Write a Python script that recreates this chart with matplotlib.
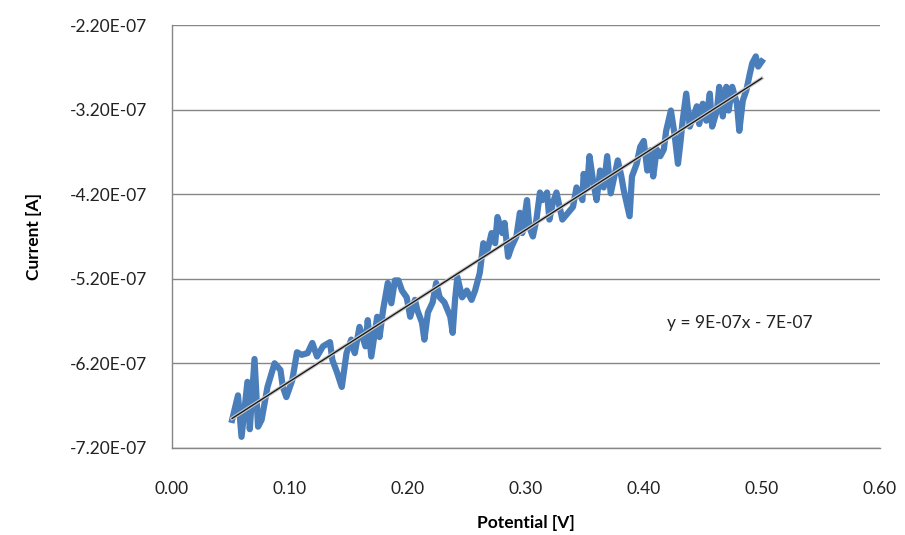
import numpy as np
import matplotlib.pyplot as plt
from matplotlib.ticker import FormatStrFormatter, FixedLocator

plt.rcParams['font.family'] = ['Lato', 'DejaVu Sans']

# Measured sweep: potential in V, current in units of 1e-7 A
potential = [
    0.051, 0.056, 0.059, 0.064, 0.066, 0.070, 0.073, 0.076, 0.081, 0.087,
    0.092, 0.094, 0.097, 0.102, 0.106, 0.110, 0.115, 0.119, 0.123, 0.128,
    0.134, 0.136, 0.140, 0.144, 0.148, 0.152, 0.155, 0.159, 0.164, 0.166,
    0.169, 0.174, 0.176, 0.179, 0.183, 0.186, 0.189, 0.192, 0.195, 0.199,
    0.202, 0.206, 0.208, 0.212, 0.214, 0.217, 0.221, 0.224, 0.227, 0.231,
    0.236, 0.238, 0.240, 0.242, 0.246, 0.250, 0.254, 0.257, 0.261, 0.264,
    0.267, 0.271, 0.274, 0.276, 0.280, 0.282, 0.285, 0.288, 0.292, 0.295,
    0.297, 0.301, 0.303, 0.306, 0.309, 0.312, 0.314, 0.318, 0.320, 0.323,
    0.326, 0.331, 0.340, 0.343, 0.348, 0.349, 0.352, 0.354, 0.357, 0.360,
    0.363, 0.366, 0.369, 0.372, 0.378, 0.381, 0.383, 0.388, 0.390, 0.394,
    0.397, 0.400, 0.403, 0.406, 0.408, 0.411, 0.414, 0.417, 0.419, 0.423,
    0.426, 0.429, 0.431, 0.433, 0.436, 0.439, 0.442, 0.445, 0.447, 0.450,
    0.453, 0.456, 0.458, 0.462, 0.464, 0.467, 0.470, 0.472, 0.475, 0.479,
    0.481, 0.484, 0.487, 0.490, 0.492, 0.495, 0.497, 0.500,
]
current_e7 = [
    -6.87, -6.58, -7.07, -6.42, -6.98, -6.15, -6.95, -6.87, -6.48, -6.20,
    -6.28, -6.48, -6.60, -6.40, -6.07, -6.10, -6.08, -5.96, -6.12, -6.00,
    -5.95, -6.16, -6.31, -6.48, -6.08, -5.92, -6.08, -5.77, -6.00, -5.69,
    -6.12, -5.65, -5.89, -5.57, -5.25, -5.49, -5.22, -5.22, -5.34, -5.42,
    -5.65, -5.45, -5.57, -5.72, -5.92, -5.60, -5.48, -5.25, -5.42, -5.48,
    -5.65, -5.84, -5.45, -5.18, -5.42, -5.34, -5.45, -5.34, -5.13, -4.78,
    -4.89, -4.66, -4.78, -4.47, -4.66, -4.54, -4.94, -4.82, -4.70, -4.42,
    -4.66, -4.27, -4.59, -4.70, -4.50, -4.18, -4.27, -4.18, -4.50, -4.30,
    -4.18, -4.50, -4.35, -4.12, -4.27, -3.96, -4.12, -3.75, -4.04, -4.27,
    -3.92, -4.12, -3.75, -4.19, -3.80, -3.99, -4.15, -4.46, -3.99, -3.84,
    -3.64, -3.57, -3.92, -3.68, -3.99, -3.67, -3.75, -3.67, -3.45, -3.21,
    -3.48, -3.84, -3.60, -3.33, -3.01, -3.40, -3.28, -3.16, -3.37, -3.13,
    -3.33, -3.01, -3.40, -3.21, -2.93, -3.28, -2.93, -3.21, -2.93, -3.13,
    -3.45, -3.09, -2.97, -2.77, -2.65, -2.57, -2.69, -2.63,
]
current = np.array(current_e7) * 1e-7

x_ticks = [0.0, 0.1, 0.2, 0.3, 0.4, 0.5, 0.6]
y_ticks = [-7.2e-7, -6.2e-7, -5.2e-7, -4.2e-7, -3.2e-7, -2.2e-7]

# least-squares trendline
slope, intercept = np.polyfit(potential, current, 1)
fit_x = np.array([min(potential), max(potential)])
fit_y = slope * fit_x + intercept

fig = plt.figure(figsize=(9.05, 5.35), dpi=100)
ax = fig.add_axes([0.190, 0.163, 0.782, 0.790])

ax.plot(potential, current, color='#4A7EBB', lw=4.5, solid_joinstyle='round', zorder=3)
ax.plot(fit_x, fit_y, color='#c8c8c8', lw=2.6, zorder=4)
ax.plot(fit_x, fit_y, color='#1a1a1a', lw=1.0, zorder=5)

sign = '-' if intercept < 0 else '+'
eq = 'y = {:.0E}x {} {:.0E}'.format(slope, sign, abs(intercept))
ax.text(0.42, -5.72e-7, eq, fontsize=12.5, va='center', ha='left', color='#222222')

ax.set_xlim(x_ticks[0], x_ticks[-1])
ax.set_ylim(y_ticks[0], y_ticks[-1])
ax.xaxis.set_major_locator(FixedLocator(x_ticks))
ax.yaxis.set_major_locator(FixedLocator(y_ticks))
ax.xaxis.set_major_formatter(FormatStrFormatter('%.2f'))
ax.yaxis.set_major_formatter(FormatStrFormatter('%.2E'))
ax.tick_params(axis='x', length=0, pad=24, labelsize=12.5, colors='#222222')
ax.tick_params(axis='y', length=0, pad=18, labelsize=12.5, colors='#222222')

ax.grid(axis='y', color='#868686', lw=1.0)
ax.set_axisbelow(True)
for side in ['top', 'right']:
    ax.spines[side].set_visible(False)
for side in ['left', 'bottom']:
    ax.spines[side].set_color('#868686')
    ax.spines[side].set_linewidth(1.0)

ax.set_xlabel('Potential [V]', fontsize=12.5, fontweight='bold', labelpad=13)
ax.set_ylabel('Current [A]', fontsize=12.5, fontweight='bold', labelpad=20)

fig.savefig('out.png', dpi=100)
